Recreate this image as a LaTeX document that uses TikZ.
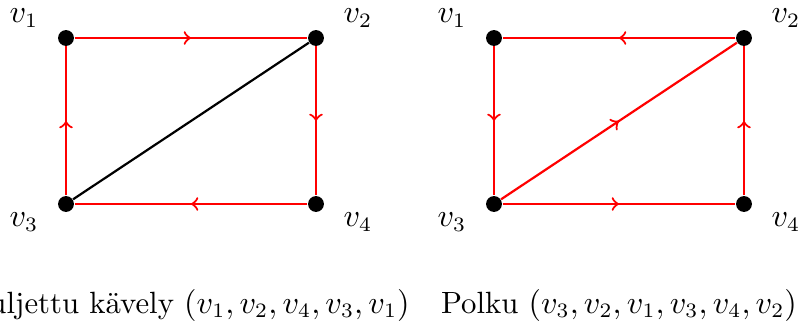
\documentclass[tikz,border=0pt]{standalone}
\usetikzlibrary{decorations.markings}

\begin{document}
\begin{tikzpicture}[
        font=\fontsize{10.5}{13}\selectfont,
        vertex/.style={circle, fill=black, inner sep=0pt, minimum
        size=0.19cm},
        edge/.style={draw=red, line width=0.75pt},
        plain/.style={draw=black, line width=0.75pt},
        mid/.style={edge, postaction={decorate, decoration={markings,
        mark=at position 0.5 with {\arrow[red, line width=0.75pt]{to}}}}}
      ]
      \useasboundingbox (-0.792, -1.452) rectangle (8.82, 2.448);

      % Suljettu kävely
      \node [vertex] (a1) at (0, 1.992) {};
      \node [vertex] (a2) at (3, 1.992) {};
      \node [vertex] (a3) at (0, 0) {};
      \node [vertex] (a4) at (3, 0) {};
      \node (la1) at ([shift={(-0.504, 0.24)}]a1) {$v_1$};
      \node (la2) at ([shift={(0.504, 0.24)}]a2) {$v_2$};
      \node (la3) at ([shift={(-0.504, -0.216)}]a3) {$v_3$};
      \node (la4) at ([shift={(0.504, -0.216)}]a4) {$v_4$};

      \path [plain] (a2) -- (a3);
      \path [mid] (a1) -- (a2);
      \path [mid] (a2) -- (a4);
      \path [mid] (a4) -- (a3);
      \path [mid] (a3) -- (a1);

      \node (capa) at (1.5, -1.212) {Suljettu kävely $(v_1, v_2, v_4, v_3, v_1)$};

      % Polku
      \node [vertex] (b1) at (5.136, 1.992) {};
      \node [vertex] (b2) at (8.136, 1.992) {};
      \node [vertex] (b3) at (5.136, 0) {};
      \node [vertex] (b4) at (8.136, 0) {};
      \node (lb1) at ([shift={(-0.504, 0.24)}]b1) {$v_1$};
      \node (lb2) at ([shift={(0.504, 0.24)}]b2) {$v_2$};
      \node (lb3) at ([shift={(-0.504, -0.216)}]b3) {$v_3$};
      \node (lb4) at ([shift={(0.504, -0.216)}]b4) {$v_4$};

      \path [mid] (b3) -- (b2);
      \path [mid] (b2) -- (b1);
      \path [mid] (b1) -- (b3);
      \path [mid] (b3) -- (b4);
      \path [mid] (b4) -- (b2);

      \node (capb) at (6.636, -1.212) {Polku $(v_3, v_2, v_1, v_3, v_4, v_2)$};

    \end{tikzpicture}
\end{document}
